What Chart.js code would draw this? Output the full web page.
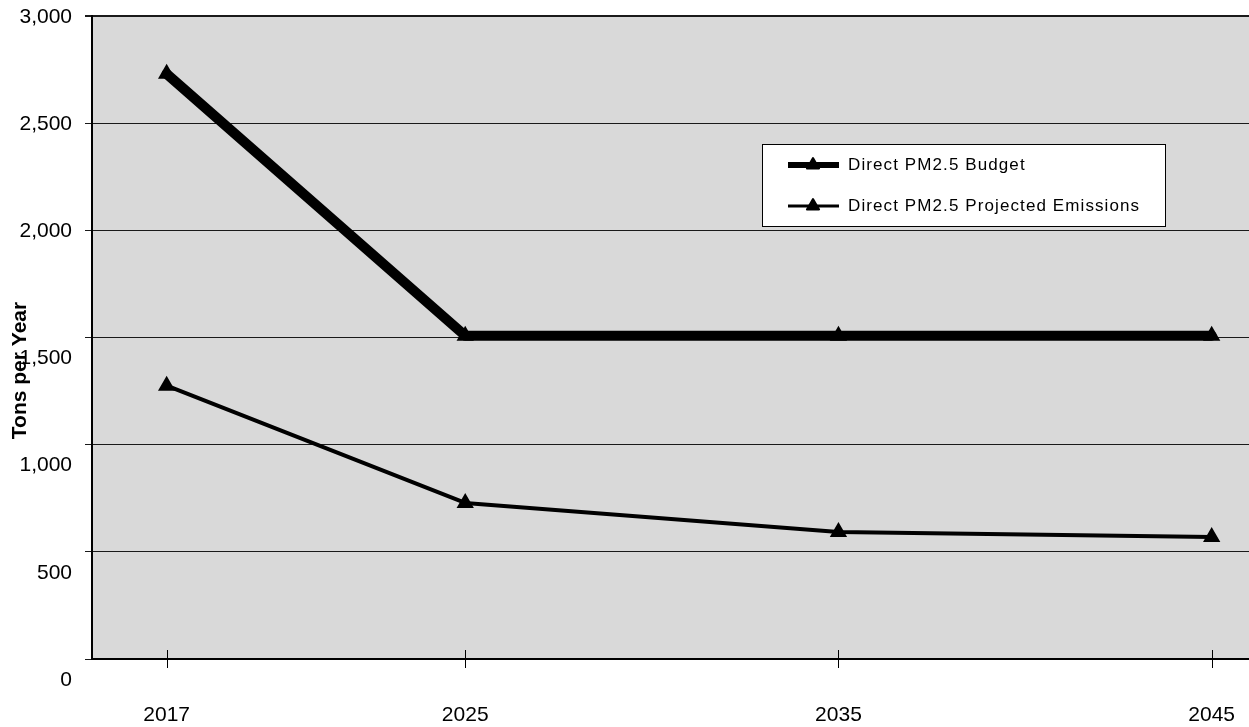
<!DOCTYPE html>
<html lang="en">
<head>
<meta charset="utf-8">
<title>Direct PM2.5</title>
<script src="https://cdn.jsdelivr.net/npm/chart.js@4.4.1/dist/chart.umd.min.js"></script>
<style>
    html, body { margin: 0; padding: 0; background: #ffffff; }
    .chart-wrapper { position: relative; width: 1249px; height: 727px; }
</style>
</head>
<body>
<div class="chart-wrapper"><canvas id="pmChart"></canvas></div>
<script>
// Datos del gráfico
const anios = [2017, 2025, 2035, 2045];
const presupuesto = [2730, 1508, 1508, 1508];
const emisionesProyectadas = [1275, 728, 593, 569];
const etiquetasY = [0, 500, 1000, 1500, 2000, 2500, 3000];
const nombresSeries = ['Direct PM2.5 Budget', 'Direct PM2.5 Projected Emissions'];
const tituloY = 'Tons per Year';

const FUENTE = "'Liberation Sans', Arial, sans-serif";
const GRIS_FONDO = '#d9d9d9';

function puntos(valores) {
    return anios.map((anio, i) => ({ x: anio, y: valores[i] }));
}

// Leyenda dibujada a mano dentro del área del gráfico
function dibujarLeyenda(chart) {
    const ctx = chart.ctx;
    ctx.save();
    ctx.fillStyle = '#ffffff';
    ctx.fillRect(762, 144, 404, 83);
    ctx.strokeStyle = '#000';
    ctx.lineWidth = 1;
    ctx.strokeRect(762.5, 144.5, 403, 82);

    chart.data.datasets.forEach((ds, i) => {
        const y = 165 + i * 41;
        ctx.strokeStyle = '#000';
        ctx.fillStyle = '#000';
        ctx.lineWidth = i === 0 ? 6 : 3;
        ctx.beginPath();
        ctx.moveTo(788, y);
        ctx.lineTo(839, y);
        ctx.stroke();
        ctx.lineWidth = 2;
        ctx.lineJoin = 'round';
        Chart.helpers.drawPoint(ctx, { pointStyle: 'triangle', radius: 7, borderWidth: 2, rotation: 0 }, 813, y);

        ctx.font = '17px ' + FUENTE;
        ctx.letterSpacing = '1.1px';
        ctx.textAlign = 'left';
        ctx.textBaseline = 'middle';
        ctx.fillText(ds.label, 848, y);
        ctx.letterSpacing = '0px';
    });
    ctx.restore();
}

// Plugin: fondo gris, etiquetas del eje Y, título, marcas del eje X y leyenda
const pluginExcel = {
    id: 'estiloExcel',
    beforeDraw(chart) {
        const { ctx, chartArea } = chart;
        ctx.save();
        ctx.fillStyle = GRIS_FONDO;
        ctx.fillRect(chartArea.left, chartArea.top, chartArea.right - chartArea.left, chartArea.bottom - chartArea.top);
        ctx.restore();
    },
    afterDraw(chart) {
        const { ctx, chartArea } = chart;
        const escalaX = chart.scales.x;
        const escalaY = chart.scales.y;
        ctx.save();

        // marcas del eje X (cruzan el eje)
        ctx.strokeStyle = '#000';
        ctx.lineWidth = 1;
        escalaX.ticks.forEach(t => {
            const px = Math.round(escalaX.getPixelForValue(t.value)) + 0.5;
            ctx.beginPath();
            ctx.moveTo(px, chartArea.bottom - 9);
            ctx.lineTo(px, chartArea.bottom + 9);
            ctx.stroke();
        });

        // etiquetas del eje Y (en el original bajan unos 20px desde 1,500)
        ctx.fillStyle = '#000';
        ctx.font = '21px ' + FUENTE;
        ctx.textAlign = 'right';
        ctx.textBaseline = 'middle';
        escalaY.ticks.forEach(t => {
            const py = escalaY.getPixelForValue(t.value) + (t.value <= 1500 ? 21 : 1);
            ctx.fillText(t.label, escalaY.right - 20, py);
        });

        // título del eje Y
        ctx.save();
        ctx.translate(20, (chartArea.top + chartArea.bottom) / 2 + 33);
        ctx.rotate(-Math.PI / 2);
        ctx.font = 'bold 21px ' + FUENTE;
        ctx.textAlign = 'center';
        ctx.textBaseline = 'middle';
        ctx.fillText(tituloY, 0, 0);
        ctx.restore();

        ctx.restore();
        dibujarLeyenda(chart);
    }
};

new Chart(document.getElementById('pmChart'), {
    type: 'line',
    data: {
        datasets: [
            {
                label: nombresSeries[0],
                data: puntos(presupuesto),
                borderColor: '#000',
                backgroundColor: '#000',
                borderWidth: 10,
                borderCapStyle: 'round',
                borderJoinStyle: 'round',
                pointStyle: 'triangle',
                pointRadius: 7,
                pointBorderWidth: 3,
                pointBackgroundColor: '#000',
                pointBorderColor: '#000',
                tension: 0
            },
            {
                label: nombresSeries[1],
                data: puntos(emisionesProyectadas),
                borderColor: '#000',
                backgroundColor: '#000',
                borderWidth: 4,
                borderCapStyle: 'round',
                borderJoinStyle: 'round',
                pointStyle: 'triangle',
                pointRadius: 7,
                pointBorderWidth: 3,
                pointBackgroundColor: '#000',
                pointBorderColor: '#000',
                tension: 0
            }
        ]
    },
    options: {
        responsive: true,
        maintainAspectRatio: false,
        animation: false,
        layout: { autoPadding: false, padding: { top: 16, right: 0, bottom: 0, left: 0 } },
        plugins: {
            legend: { display: false },
            tooltip: { enabled: false }
        },
        scales: {
            x: {
                type: 'linear',
                min: 2015,
                max: 2046,
                afterBuildTicks: scale => { scale.ticks = anios.map(v => ({ value: v })); },
                afterFit: scale => {
                    scale.height = 68;
                    scale.paddingLeft = 0;
                    scale.paddingRight = 0;
                },
                grid: { display: false },
                border: { display: true, color: '#000', width: 2 },
                ticks: {
                    color: '#000',
                    font: { family: FUENTE, size: 21 },
                    padding: 36,
                    autoSkip: false,
                    maxRotation: 0,
                    callback: v => String(v)
                }
            },
            y: {
                min: 0,
                max: 3000,
                afterBuildTicks: scale => { scale.ticks = etiquetasY.map(v => ({ value: v })); },
                afterFit: scale => {
                    scale.width = 92;
                    scale.paddingTop = 0;
                    scale.paddingBottom = 0;
                },
                grid: {
                    color: '#1a1a1a',
                    lineWidth: ctx => (ctx.tick && ctx.tick.value === 3000 ? 2 : 1),
                    tickLength: 7,
                    drawTicks: true
                },
                border: { display: true, color: '#000', width: 2 },
                ticks: {
                    color: 'rgba(0,0,0,0)',
                    font: { family: FUENTE, size: 21 },
                    callback: v => v.toLocaleString('en-US')
                }
            }
        }
    },
    plugins: [pluginExcel]
});
</script>
</body>
</html>
